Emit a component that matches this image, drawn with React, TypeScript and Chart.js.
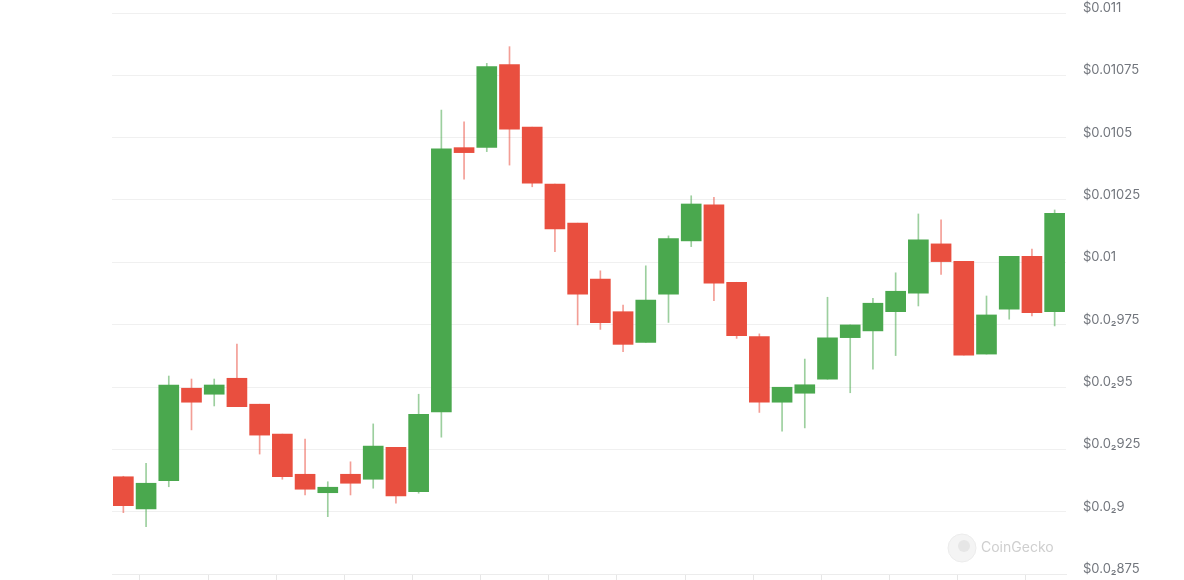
import { useEffect, useRef } from 'react';
import { Chart, registerables } from 'chart.js';

Chart.register(...registerables);

const candleIndex = [0,1,2,3,4,5,6,7,8,9,10,11,12,13,14,15,16,17,18,19,20,21,22,23,24,25,26,27,28,29,30,31,32,33,34,35,36,37,38,39,40,41];

const opens = [0.009140,0.009011,0.009124,0.009495,0.009471,0.009535,0.009431,0.009311,0.009150,0.009076,0.009150,0.009130,0.009258,0.009080,0.009400,0.010460,0.010461,0.010793,0.010542,0.010314,0.010157,0.009933,0.009802,0.009679,0.009872,0.010086,0.010231,0.009920,0.009702,0.009439,0.009475,0.009531,0.009698,0.009725,0.009802,0.009876,0.010074,0.010004,0.009632,0.009812,0.010024,0.009802];
const highs = [0.009142,0.009194,0.009544,0.009532,0.009532,0.009672,0.009431,0.009311,0.009291,0.009120,0.009200,0.009352,0.009258,0.009471,0.010611,0.010564,0.010798,0.010865,0.010542,0.010314,0.010157,0.009966,0.009829,0.009986,0.010106,0.010267,0.010261,0.009920,0.009713,0.009499,0.009612,0.009860,0.009749,0.009856,0.009958,0.010194,0.010170,0.010004,0.009865,0.010024,0.010053,0.010210];
const lows = [0.008996,0.008940,0.009100,0.009328,0.009424,0.009421,0.009231,0.009130,0.009067,0.008980,0.009067,0.009094,0.009034,0.009074,0.009299,0.010334,0.010444,0.010390,0.010303,0.010043,0.009749,0.009731,0.009642,0.009679,0.009759,0.010063,0.009846,0.009695,0.009398,0.009323,0.009336,0.009531,0.009477,0.009572,0.009626,0.009825,0.009952,0.009628,0.009632,0.009772,0.009785,0.009745];
const closes = [0.009024,0.009114,0.009508,0.009439,0.009508,0.009421,0.009307,0.009140,0.009090,0.009098,0.009114,0.009263,0.009063,0.009390,0.010455,0.010440,0.010785,0.010534,0.010317,0.010134,0.009872,0.009758,0.009671,0.009849,0.010095,0.010234,0.009916,0.009706,0.009439,0.009499,0.009509,0.009697,0.009749,0.009836,0.009884,0.010090,0.010003,0.009628,0.009789,0.010024,0.009798,0.010197];

const yTickValues = [0.00875, 0.009, 0.00925, 0.0095, 0.00975, 0.01, 0.01025, 0.0105, 0.01075, 0.011];
const yTickLabels = ['$0.0₂875', '$0.0₂9', '$0.0₂925', '$0.0₂95', '$0.0₂975', '$0.01', '$0.01025', '$0.0105', '$0.01075', '$0.011'];
const xTickPositions = [0.73, 3.73, 6.73, 9.73, 12.73, 15.73, 18.73, 21.73, 24.73, 27.73, 30.73, 33.73, 36.73, 39.73];

const UP = '#4aa84e';
const DOWN = '#e94f3f';
const UP_WICK = 'rgba(74,168,78,0.55)';
const DOWN_WICK = 'rgba(233,79,63,0.55)';

const watermark = {
  id: 'watermark',
  beforeDatasetsDraw(chart: any) {
    const ctx = chart.ctx;
    ctx.save();
    ctx.beginPath();
    ctx.arc(962, 548, 14, 0, Math.PI * 2);
    ctx.fillStyle = '#f4f4f4';
    ctx.fill();
    ctx.strokeStyle = '#ececec';
    ctx.lineWidth = 1;
    ctx.stroke();
    ctx.beginPath();
    ctx.arc(964, 546, 6, 0, Math.PI * 2);
    ctx.fillStyle = '#e6e6e6';
    ctx.fill();
    ctx.font = '14px Inter, "Liberation Sans", sans-serif';
    ctx.fillStyle = '#cfcfcf';
    ctx.textBaseline = 'middle';
    ctx.textAlign = 'left';
    ctx.fillText('CoinGecko', 981, 548);
    ctx.restore();
  },
};

export default function App() {
  const ref = useRef<HTMLCanvasElement | null>(null);

  useEffect(() => {
    if (!ref.current) return;
    const isUp = candleIndex.map((i) => closes[i] >= opens[i]);
    const chart = new Chart(ref.current, {
      type: 'bar',
      data: {
        datasets: [
          {
            label: 'body',
            data: candleIndex.map((i) => ({ x: i, y: [Math.min(opens[i], closes[i]), Math.max(opens[i], closes[i])] })) as any,
            backgroundColor: isUp.map((u) => (u ? UP : DOWN)),
            borderWidth: 0,
            borderSkipped: false,
            barThickness: 20,
            grouped: false,
          } as any,
          {
            label: 'wick',
            data: candleIndex.map((i) => ({ x: i, y: [lows[i], highs[i]] })) as any,
            backgroundColor: isUp.map((u) => (u ? UP_WICK : DOWN_WICK)),
            borderWidth: 0,
            borderSkipped: false,
            barThickness: 1,
            grouped: false,
          } as any,
        ],
      },
      options: {
        responsive: false,
        animation: false,
        events: [],
        layout: { padding: { left: 112, top: 13, right: 0, bottom: 0 } },
        plugins: { legend: { display: false }, tooltip: { enabled: false } },
        scales: {
          x: {
            type: 'linear',
            min: -0.5,
            max: 41.5,
            offset: false,
            afterBuildTicks: (scale: any) => {
              scale.ticks = xTickPositions.map((v) => ({ value: v }));
            },
            ticks: { display: false },
            grid: { display: true, offset: false, drawOnChartArea: false, drawTicks: true, tickLength: 6, color: '#e6e6e6' },
            border: { display: true, color: '#ececec' },
          },
          y: {
            type: 'linear',
            position: 'right',
            min: 0.00875,
            max: 0.011,
            afterBuildTicks: (scale: any) => {
              scale.ticks = yTickValues.map((v) => ({ value: v }));
            },
            afterFit: (scale: any) => {
              scale.width = 118;
              scale.paddingTop = 0;
              scale.paddingBottom = 0;
            },
            ticks: {
              padding: 17,
              labelOffset: -5,
              color: '#72767d',
              font: { family: 'Inter, "Liberation Sans", sans-serif', size: 13 },
              callback: (_v: any, idx: number) => yTickLabels[idx],
            },
            grid: { drawTicks: false, color: '#f0f0f0' },
            border: { display: false },
          },
        },
      },
      plugins: [watermark],
    });
    return () => chart.destroy();
  }, []);

  return (
    <div style={{ position: 'absolute', left: 0, top: 0, width: 1184, height: 580, background: '#fff' }}>
      <canvas ref={ref} width={1184} height={580} />
    </div>
  );
}
